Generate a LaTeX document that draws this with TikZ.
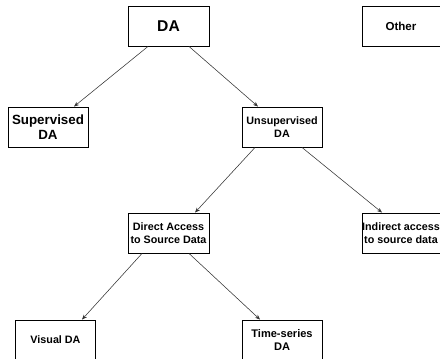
\documentclass[tikz,border=0pt]{standalone}
\usepackage{fontspec}
\setmainfont{Liberation Sans}
\usetikzlibrary{arrows.meta}

\begin{document}
\begin{tikzpicture}[x=1bp, y=-1bp,
	box/.style={draw=black, line width=0.9bp, fill=white, align=center, inner sep=0pt, minimum width=80bp, minimum height=40bp, font=\fontsize{10.8}{13.5}\selectfont\bfseries},
	arr/.style={draw=black!80, line width=0.55bp, -{Stealth[length=5bp,width=4bp]}}]
	\useasboundingbox (0,0) rectangle (440,358);
	\node[box, minimum width=81bp, font=\fontsize{15.7}{18}\selectfont\bfseries] (da) at (168.5,26) {DA};
	\node[box, minimum width=78bp, font=\fontsize{11.6}{14}\selectfont\bfseries] (other) at (401,26) {Other};
	\node[box, font=\fontsize{13.4}{15}\selectfont\bfseries] (sup) at (48,127) {Supervised\\DA};
	\node[box] (unsup) at (282,127) {Unsupervised\\DA};
	\node[box, minimum width=81bp] (direct) at (168.5,233) {Direct Access\\to Source Data};
	\node[box, minimum width=78bp] (indirect) at (401,233) {Indirect access\\to source data};
	\node[box] (visual) at (55.5,340) {Visual DA};
	\node[box, font=\fontsize{11.1}{13.5}\selectfont\bfseries] (time) at (282,340) {Time-series\\DA};
	\draw[arr] ([xshift=-20.5bp]da.south) -- ([xshift=26bp]sup.north);
	\draw[arr] ([xshift=20.5bp]da.south) -- ([xshift=-24bp]unsup.north);
	\draw[arr] ([xshift=-27bp]unsup.south) -- ([xshift=26.5bp]direct.north);
	\draw[arr] ([xshift=20bp]unsup.south) -- ([xshift=-19bp]indirect.north);
	\draw[arr] ([xshift=-26.5bp]direct.south) -- ([xshift=26.5bp]visual.north);
	\draw[arr] ([xshift=20.5bp]direct.south) -- ([xshift=-22bp]time.north);
\end{tikzpicture}
\end{document}
